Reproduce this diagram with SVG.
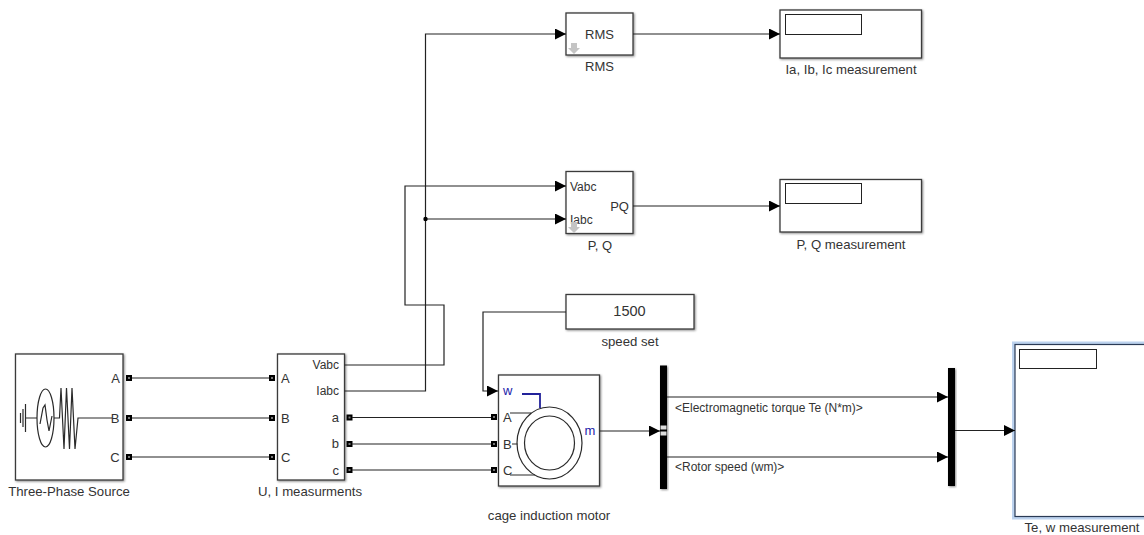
<svg xmlns="http://www.w3.org/2000/svg" width="1144" height="535" viewBox="0 0 1144 535">
<style>
text{font-family:"Liberation Sans",Arial,sans-serif;font-size:12px;fill:#333}
.l{font-size:13.200px}
.p{font-size:13px}
.m{text-anchor:middle}.e{text-anchor:end}
.blk{fill:#fff;stroke:#3a3a3a;stroke-width:1.300;filter:url(#sh)}
.in{fill:#fff;stroke:#222;stroke-width:1}
.bar{fill:#000;filter:url(#sh)}
.ic{fill:none;stroke:#2a2a2a;stroke-width:1.200}
.w{fill:none;stroke:#222;stroke-width:1.200}
.a{marker-end:url(#arr)}
.blue{fill:#2222aa;font-size:13px}
</style>
<defs>
<filter id="sh" x="-10%" y="-10%" width="125%" height="125%"><feDropShadow dx="1" dy="1" stdDeviation="0.9" flood-color="#000" flood-opacity="0.45"/></filter>
<marker id="arr" markerUnits="userSpaceOnUse" markerWidth="11" markerHeight="11" refX="11" refY="5.500" orient="auto"><path d="M0 0L11 5.500L0 11Z" fill="#000"/></marker>
<g id="port"><rect x="-3" y="-3" width="6" height="6" fill="#000"/><rect x="-1" y="-1" width="2" height="2" fill="#777"/></g>
<g id="dn"><path d="M-3 -5H3V0H6L0 6L-6 0H-3Z" fill="#c4c4c4"/></g>
</defs>

<g id="three-phase-source">
<rect class="blk" x="15.500" y="354" width="107.500" height="126"/>
<path class="ic" d="M20.500 413V423M23 409V427M25.500 404V432M25.500 418H37M54 418H59.500L61 388L64 449L66.500 388L69.500 449L72 388L75 449L78 418H112"/>
<ellipse class="ic" cx="45.500" cy="418" rx="8.500" ry="29"/>
<path class="ic" d="M40 424L43 408L45 405L47 420L49 431L52 416"/>
<text x="115.500" y="382.500" class="m p">A</text><text x="115" y="422.500" class="m p">B</text><text x="115" y="461.500" class="m p">C</text>
<use href="#port" x="129" y="378"/><use href="#port" x="129" y="418"/><use href="#port" x="129" y="457"/>
<text x="69" y="496" class="m l">Three-Phase Source</text>
</g>

<g id="ui-measurements">
<rect class="blk" x="277.500" y="354" width="67" height="126"/>
<text x="281" y="382.500" class="p">A</text><text x="281" y="422.500" class="p">B</text><text x="281" y="461.500" class="p">C</text>
<text x="339" y="369" class="e">Vabc</text><text x="339" y="395" class="e">Iabc</text>
<text x="339" y="422" class="e p">a</text><text x="339" y="448" class="e p">b</text><text x="339" y="475" class="e p">c</text>
<use href="#port" x="272" y="378"/><use href="#port" x="272" y="418"/><use href="#port" x="272" y="457"/>
<use href="#port" x="349.500" y="417.500"/><use href="#port" x="349.500" y="444"/><use href="#port" x="349.500" y="470"/>
<text x="310" y="496" class="m l">U, I measurments</text>
</g>

<g id="rms">
<rect class="blk" x="566" y="13" width="67" height="42"/>
<text x="599.500" y="38.500" class="m p">RMS</text>
<use href="#dn" x="574" y="48"/>
<text x="599.500" y="71" class="m p">RMS</text>
</g>

<g id="pq">
<rect class="blk" x="566" y="171.500" width="67" height="62"/>
<text x="570" y="191">Vabc</text><text x="570" y="224">Iabc</text>
<text x="629" y="211" class="e p">PQ</text>
<use href="#dn" x="574" y="227"/>
<text x="600" y="250" class="m p">P, Q</text>
</g>

<g id="ia-ib-ic-measurement">
<rect class="blk" x="780" y="10" width="141.500" height="48"/>
<rect class="in" x="785.500" y="14.500" width="76" height="20"/>
<text x="851" y="73.500" class="m l">Ia, Ib, Ic measurement</text>
</g>

<g id="pq-measurement">
<rect class="blk" x="780" y="179.500" width="141.500" height="52.500"/>
<rect class="in" x="785.500" y="183.500" width="76" height="20"/>
<text x="851" y="248.500" class="m l">P, Q measurement</text>
</g>

<g id="speed-set">
<rect class="blk" x="566" y="294.500" width="128" height="34.500"/>
<text x="629.500" y="316" class="m" style="font-size:14.500px">1500</text>
<text x="630" y="345.500" class="m l">speed set</text>
</g>

<g id="motor">
<rect class="blk" x="498.500" y="375" width="101" height="111"/>
<ellipse class="ic" cx="549.500" cy="443" rx="32.500" ry="36"/>
<ellipse class="ic" cx="549.500" cy="443" rx="25" ry="27"/>
<path fill="none" stroke="#22229a" stroke-width="1.800" d="M522 394H540V408"/>
<path class="ic" d="M510 413H531M512 444H517.500M510 475H535"/>
<text x="503" y="395" class="blue">w</text>
<text x="584.500" y="435" class="blue">m</text>
<text x="503" y="421.500" class="p">A</text><text x="503" y="448.500" class="p">B</text><text x="503" y="474.500" class="p">C</text>
<use href="#port" x="494" y="417"/><use href="#port" x="494" y="444"/><use href="#port" x="494" y="470"/>
<text x="549" y="520" class="m l">cage induction motor</text>
</g>

<g id="demux">
<rect class="bar" x="660" y="365.500" width="7" height="123.500"/>
<rect x="660.500" y="425.500" width="6" height="4" fill="#ddd"/>
<rect x="660.500" y="431.500" width="6" height="4" fill="#ddd"/>
<text x="675" y="412">&lt;Electromagnetic torque Te (N*m)&gt;</text>
<text x="675" y="471">&lt;Rotor speed (wm)&gt;</text>
</g>

<g id="mux">
<rect class="bar" x="948" y="368" width="7" height="118"/>
</g>

<g id="te-w-measurement">
<rect x="1012" y="341.500" width="140" height="178" fill="#bcd2ee"/>
<rect x="1015" y="344.500" width="140" height="172" fill="#fff" stroke="#2a3a55" stroke-width="1.200"/>
<rect class="in" x="1019.500" y="349.500" width="77" height="19"/>
<text x="1082" y="532" class="m l">Te, w measurement</text>
</g>

<g id="connectors">
<path class="w" d="M132 378H269M132 418H269M132 457H269"/>
<path class="w" d="M352 417.500H491M352 444H491M352 470H491"/>
<path class="w a" d="M344.500 365H444V305H405V186H566"/>
<path class="w a" d="M344.500 391H425.500V34H566"/>
<path class="w a" d="M425.500 219H566"/>
<circle cx="425.500" cy="219" r="2.200" fill="#000"/>
<path class="w a" d="M633 34H780"/>
<path class="w a" d="M633 206H780"/>
<path class="w a" d="M566 312H483V391H498"/>
<path class="w a" d="M599.500 431H660"/>
<path class="w a" d="M667 397H948"/>
<path class="w a" d="M667 457H948"/>
<path class="w a" d="M955 430.500H1015"/>
</g>
</svg>
